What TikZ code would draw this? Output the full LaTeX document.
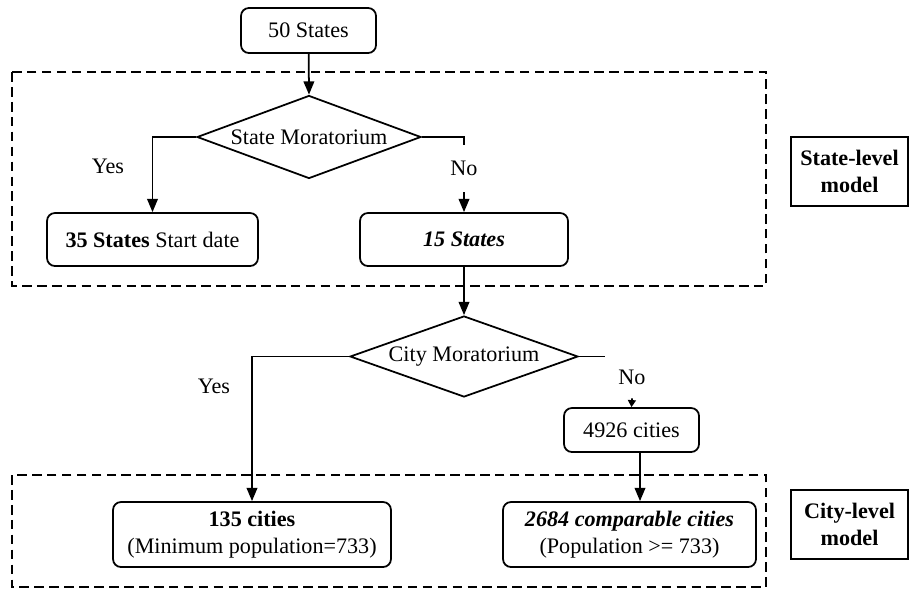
\documentclass[tikz,border=0pt]{standalone}
\usepackage{fontspec}
\setmainfont{Liberation Serif}
\usepackage{tikz}
\usetikzlibrary{positioning, arrows.meta, shapes.geometric, calc}

\begin{document}
\begin{tikzpicture}[
    x=0.02cm, y=-0.02cm,
    font=\fontsize{12.6}{15}\selectfont,
    stage/.style={rectangle, draw=black, line width=1pt, rounded corners=4.5pt,
                  inner sep=0pt, minimum height=1.06cm, align=center},
    decision/.style={diamond, draw=black, line width=1pt, inner sep=0pt,
                     aspect=2.7},
    sidebox/.style={rectangle, draw=black, line width=0.6pt, inner sep=0pt,
                    minimum width=2.34cm, minimum height=1.38cm,
                    font=\fontsize{12.6}{15}\selectfont\bfseries, align=center},
    groupbox/.style={draw=black, line width=1pt, dash pattern=on 5.5pt off 3pt},
    flowarrow/.style={line width=1pt, -{Triangle[length=7.5pt, width=6pt]}},
    smallarrow/.style={line width=1pt, -{Triangle[length=4pt, width=4.5pt]}},
    branch/.style={inner sep=0pt}
]
    \useasboundingbox (0,0) rectangle (909,589);

    % Model groups
    \draw[groupbox] (12,72) rectangle (766,286);
    \draw[groupbox] (12,475) rectangle (766,587);
    \node[sidebox] (statemodel) at (849.5,171.5) {State-level\\model};
    \node[sidebox] (citymodel) at (849.5,524.5) {City-level\\model};

    % State level
    \node[stage, minimum width=2.7cm, minimum height=0.9cm] (s50) at (308.5,30.5) {50 States};
    \node[decision, minimum width=4.48cm, minimum height=1.66cm] (smor) at (309,137) {State Moratorium};
    \node[stage, minimum width=4.22cm] (s35) at (152.5,239.5) {\textbf{35 States} Start date};
    \node[stage, minimum width=4.16cm] (s15) at (464,239.5) {\textbf{\textit{15 States}}};
    \node[branch] (syes) at (108,166) {Yes};
    \node[branch, minimum height=0.94cm] (sno) at (464,168.5) {No};

    % City level
    \node[decision, minimum width=4.56cm, minimum height=1.62cm] (cmor) at (464,356.5) {City Moratorium};
    \node[stage, minimum width=2.7cm, minimum height=0.88cm] (c4926) at (631.5,430) {4926 cities};
    \node[stage, minimum width=5.56cm, minimum height=1.3cm] (c135) at (252,534.5) {\textbf{135 cities}\\(Minimum population=733)};
    \node[stage, minimum width=5.06cm, minimum height=1.3cm] (c2684) at (629.5,534.5) {\textbf{\textit{2684 comparable cities}}\\(Population >= 733)};
    \node[branch] (cyes) at (214,386) {Yes};
    \node[branch, minimum height=0.84cm] (cno) at (632,377) {No};
    \coordinate (cnoend) at (605,356.5);

    % Connectors
    \draw[flowarrow] (s50) -- (smor.north);
    \draw[flowarrow] (smor.west) -| (s35.north);
    \draw[line width=1pt] (smor.east) -| (sno.north);
    \draw[flowarrow] (sno.south) -- (s15.north);
    \draw[flowarrow] (s15) -- (cmor.north);
    \draw[flowarrow] (cmor.west) -| (c135.north);
    \draw[line width=1pt] (cmor.east) -- (cnoend);
    \draw[smallarrow] (cno.south) -- (c4926.north);
    \draw[flowarrow] ([xshift=0.17cm]c4926.south) -- ([xshift=0.17cm]c4926.south |- c2684.north);
\end{tikzpicture}
\end{document}
